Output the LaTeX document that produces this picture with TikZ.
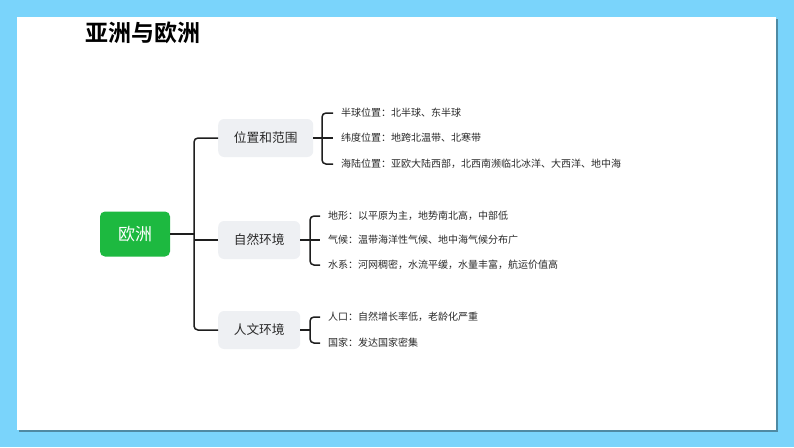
\documentclass[tikz,border=0pt]{standalone}
\usepackage{fontspec}
\newfontfamily\cjk{Noto Sans CJK SC}
\newfontfamily\cjkbold{Noto Sans CJK SC Bold}
\definecolor{bgblue}{HTML}{7AD4FB}
\definecolor{rootgreen}{HTML}{1DB940}
\definecolor{lvlgray}{HTML}{EEF0F3}
\definecolor{linec}{HTML}{1E1E1E}
\definecolor{txt}{HTML}{2A2A2A}
\tikzset{
  rootbox/.style={fill=rootgreen, rounded corners=5pt, minimum width=70pt, minimum height=45pt, text=white, font=\cjk\fontsize{17}{17}\selectfont, inner sep=0pt},
  lvlbox/.style={fill=lvlgray, rounded corners=6pt, minimum height=38pt, text=txt, font=\cjk\fontsize{12.7}{13}\selectfont, inner sep=0pt, anchor=west},
  leaf/.style={anchor=west, inner sep=0pt, text=txt, font=\cjk\fontsize{10}{11}\selectfont},
  conn/.style={draw=linec, line width=1.5pt, rounded corners=4pt},
}
\begin{document}
\begin{tikzpicture}[x=1pt,y=-1pt]
\fill[bgblue] (0,0) rectangle (794,447);
\useasboundingbox (0,0) rectangle (794,447);
\fill[black!35!bgblue] (19,19) rectangle (778,432);
\fill[white] (17,17) rectangle (776,430);
\node[anchor=west, inner sep=0pt, font=\cjkbold\fontsize{23}{23}\selectfont] (title) at (85,33) {亚洲与欧洲};

\node[rootbox] (r) at (135,234) {欧洲};
\node[lvlbox, minimum width=95pt] (a) at (218,138) {位置和范围};
\node[lvlbox, minimum width=82pt] (b) at (218,240) {自然环境};
\node[lvlbox, minimum width=82pt] (c) at (218,330) {人文环境};

\coordinate (j) at (194,234);
\draw[conn] (a.west) -| (j) |- (c.west);
\draw[conn] (r.east) -- (j);
\draw[conn] (j |- b.west) -- (b.west);

% level 2: a
\node[leaf] (a1) at (341,113) {半球位置：北半球、东半球};
\node[leaf] (a2) at (341,138) {纬度位置：地跨北温带、北寒带};
\node[leaf] (a3) at (341,164) {海陆位置：亚欧大陆西部，北西南濒临北冰洋、大西洋、地中海};
\coordinate (ka) at (322,138);
\draw[conn] (a.east) -- (ka);
\draw[conn] ([xshift=-8pt]a1.west) -| (ka) |- ([xshift=-8pt]a3.west);
\draw[conn] (ka) -- ([xshift=-8pt]a2.west);

% level 2: b
\node[leaf] (b1) at (328,216) {地形：以平原为主，地势南北高，中部低};
\node[leaf] (b2) at (328,240) {气候：温带海洋性气候、地中海气候分布广};
\node[leaf] (b3) at (328,265) {水系：河网稠密，水流平缓，水量丰富，航运价值高};
\coordinate (kb) at (310,240);
\draw[conn] (b.east) -- (kb);
\draw[conn] ([xshift=-8pt]b1.west) -| (kb) |- ([xshift=-8pt]b3.west);
\draw[conn] (kb) -- ([xshift=-8pt]b2.west);

% level 2: c
\node[leaf] (c1) at (328,317) {人口：自然增长率低，老龄化严重};
\node[leaf] (c2) at (328,343) {国家：发达国家密集};
\coordinate (kc) at (310,330);
\draw[conn] (c.east) -- (kc);
\draw[conn] ([xshift=-8pt]c1.west) -| (kc) |- ([xshift=-8pt]c2.west);
\end{tikzpicture}
\end{document}
